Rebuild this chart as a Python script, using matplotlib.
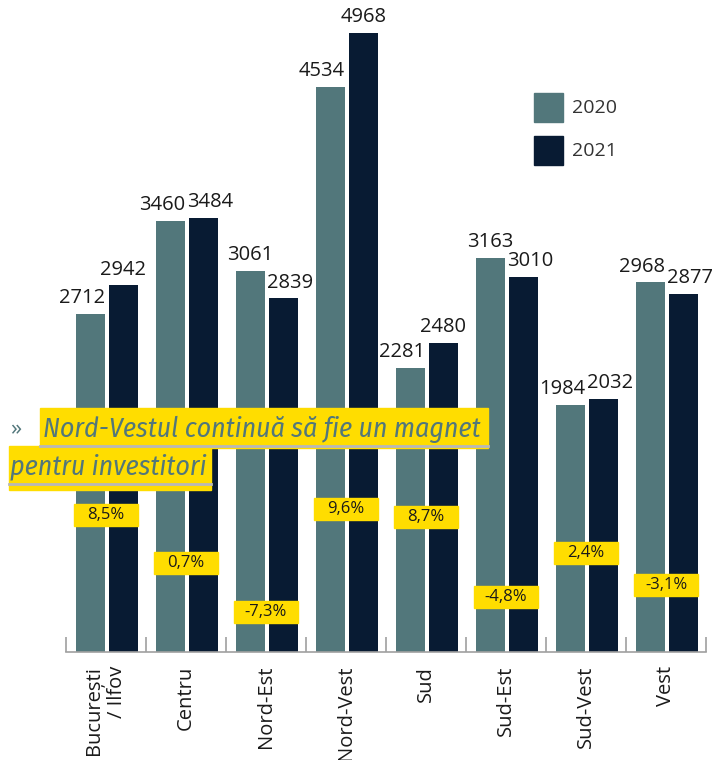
import matplotlib.pyplot as plt
from matplotlib.patches import Rectangle
import numpy as np

plt.rcParams["font.family"] = ["Open Sans", "DejaVu Sans"]

regions = ["București\n/ Ilfov", "Centru", "Nord-Est", "Nord-Vest",
           "Sud", "Sud-Est", "Sud-Vest", "Vest"]
vals_2020 = [2712, 3460, 3061, 4534, 2281, 3163, 1984, 2968]
vals_2021 = [2942, 3484, 2839, 4968, 2480, 3010, 2032, 2877]
changes = ["8,5%", "0,7%", "-7,3%", "9,6%", "8,7%", "-4,8%", "2,4%", "-3,1%"]

# vertical placement of the yellow change boxes (data units)
change_y = [1100, 714, 321, 1148, 1083, 441, 795, 538]

C2020 = "#52777b"
C2021 = "#081b33"
YELLOW = "#ffdd00"
TXT = "#1a1a1a"

fig = plt.figure(figsize=(7.17, 7.6), dpi=100)
ax = fig.add_axes([66 / 717, 108 / 760, 640 / 717, 652 / 760])

x = np.arange(len(regions))
w = 0.36
off20, off21 = -0.195, 0.215
ax.bar(x + off20, vals_2020, w, color=C2020, label="2020")
ax.bar(x + off21, vals_2021, w, color=C2021, label="2021")

for i in range(len(regions)):
    # value labels: pushed apart when the two values are close
    if vals_2020[i] - vals_2021[i] < 100:
        ax.text(x[i] + off20 + w / 2, vals_2020[i] + 45, str(vals_2020[i]),
                ha="right", va="bottom", fontsize=14.5, color=TXT)
    else:
        ax.text(x[i] + off20, vals_2020[i] + 45, str(vals_2020[i]),
                ha="center", va="bottom", fontsize=14.5, color=TXT)
    if vals_2021[i] - vals_2020[i] < 100:
        ax.text(x[i] + off21 - w / 2 - 0.025, vals_2021[i] + 45,
                str(vals_2021[i]), ha="left", va="bottom", fontsize=14.5,
                color=TXT)
    else:
        ax.text(x[i] + off21, vals_2021[i] + 45, str(vals_2021[i]),
                ha="center", va="bottom", fontsize=14.5, color=TXT)
    bw, bh = 0.81, 177
    ax.add_patch(Rectangle((x[i] - bw / 2, change_y[i] - bh / 2), bw, bh,
                           color=YELLOW, zorder=3))
    ax.text(x[i], change_y[i], changes[i], ha="center", va="center",
            fontsize=12, color=TXT, zorder=4)

ax.set_xlim(-0.5, len(regions) - 0.5)
ax.set_ylim(0, 5233)
for s in ["top", "right", "left"]:
    ax.spines[s].set_visible(False)
ax.spines["bottom"].set_color("#a0a0a0")
ax.spines["bottom"].set_linewidth(1.2)
ax.set_yticks([])
ax.set_xticks(x)
ax.set_xticklabels(regions, rotation=90, fontsize=14.5, color=TXT,
                   multialignment="right")
ax.tick_params(axis="x", length=0, pad=10)
ax.set_xticks(np.arange(-0.5, len(regions), 1.0), minor=True)
ax.tick_params(axis="x", which="minor", direction="in", length=11,
               color="#a0a0a0", width=1.2)

# legend
ov = fig.add_axes([0, 0, 1, 1], zorder=5)
ov.set_xlim(0, 717)
ov.set_ylim(760, 0)
ov.axis("off")
ov.add_patch(Rectangle((534, 93), 29, 29, color=C2020))
ov.add_patch(Rectangle((534, 136), 29, 29, color=C2021))
ov.text(572, 108, "2020", fontsize=14, color="#333333", va="center")
ov.text(572, 151, "2021", fontsize=14, color="#333333", va="center")

# callout
cfont = dict(family=["Fira Sans Condensed", "DejaVu Sans"],
             style="italic", fontsize=20, color=C2020)
ov.add_patch(Rectangle((40, 408), 448, 40, color=YELLOW))
ov.add_patch(Rectangle((9, 446), 202, 44, color=YELLOW))
ov.plot([40, 488], [446, 446], color="#b8b8b8", lw=2)
ov.plot([9, 211], [484, 484], color="#b8b8b8", lw=2)
ov.text(10, 430, "»", fontsize=16, color=C2020, va="center")
ov.text(43, 437, "Nord-Vestul continuă să fie un magnet", va="baseline",
        **cfont)
ov.text(10, 474, "pentru investitori", va="baseline", **cfont)

fig.savefig("out.png", dpi=100)
